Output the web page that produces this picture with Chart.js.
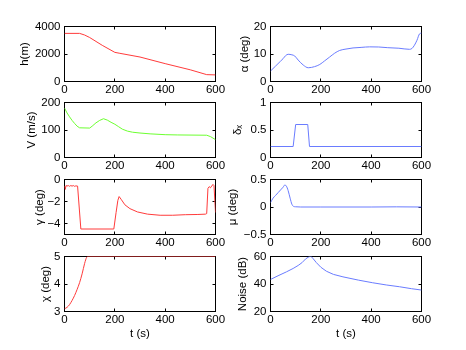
<!DOCTYPE html>
<html>
<head>
<meta charset="utf-8">
<script src="https://cdn.jsdelivr.net/npm/chart.js@4.4.0/dist/chart.umd.min.js"></script>
<style>
  html, body { margin: 0; padding: 0; background: #fff; }
  #fig { position: relative; width: 466px; height: 350px; overflow: hidden; }
  #fig canvas { position: absolute; }
</style>
</head>
<body>
<div id="fig"></div>
<script>
// tick labels
const xTicks = [0, 200, 400, 600];
const hTicks = [0, 2000, 4000];
const vTicks = [0, 100, 200];
const gammaTicks = [-4, -2, 0];
const chiTicks = [3, 4, 5];
const alphaTicks = [0, 10, 20];
const deltaTicks = [0, 0.5, 1];
const muTicks = [-0.5, 0, 0.5];
const noiseTicks = [20, 40, 60];

// series (time in s)
const hTime = [0, 60, 80, 100, 150, 200, 220, 300, 400, 500, 565, 600];
const hValue = [3500, 3500, 3380, 3200, 2630, 2120, 2050, 1780, 1300, 850, 500, 480];

const vTime = [0, 10, 20, 30, 40, 50, 60, 100, 110, 125, 140, 155, 170, 185, 200, 215, 230, 250, 270, 300, 340, 400, 450, 565, 580, 600];
const vValue = [180, 162, 148, 135, 124, 114, 108, 107, 114, 126, 135, 141, 136, 128, 121, 112, 103, 96, 92, 89, 86, 83, 82, 81, 76, 65];

const gammaTime = [0, 3, 6, 10, 15, 20, 25, 30, 35, 40, 45, 52, 65, 196, 205, 212, 217, 225, 240, 260, 290, 330, 380, 430, 480, 530, 560, 565, 570, 575, 580, 585, 590, 594, 600];
const gammaValue = [-0.6, -0.9, -0.55, -0.6, -0.55, -0.62, -0.55, -0.6, -0.55, -0.62, -0.58, -0.6, -4.5, -4.5, -3.0, -1.9, -1.55, -1.8, -2.3, -2.65, -2.95, -3.15, -3.25, -3.25, -3.2, -3.18, -3.15, -3.1, -0.8, -0.65, -0.75, -0.6, -0.45, -0.55, -3.0];

const chiTime = [0, 10, 20, 30, 40, 50, 60, 70, 80, 88, 92, 600];
const chiValue = [3.1, 3.15, 3.25, 3.4, 3.58, 3.8, 4.05, 4.37, 4.75, 4.97, 5, 5];

const alphaTime = [0, 20, 40, 50, 60, 70, 85, 96, 110, 130, 150, 175, 196, 215, 235, 255, 275, 300, 328, 360, 394, 430, 466, 510, 552, 562, 572, 582, 592, 600];
const alphaValue = [3.8, 5.6, 7.4, 8.3, 9.4, 9.9, 9.7, 9.3, 7.8, 6.0, 5.0, 5.4, 6.2, 7.5, 8.9, 10.3, 11.3, 11.8, 12.2, 12.4, 12.6, 12.55, 12.3, 12.1, 11.7, 12.0, 13.2, 15.0, 17.3, 17.6];

const deltaTime = [0, 90, 100, 148, 155, 600];
const deltaValue = [0.2, 0.2, 0.6, 0.6, 0.2, 0.2];

const muTime = [0, 10, 20, 30, 40, 50, 57, 63, 70, 78, 85, 92, 100, 120, 200, 400, 500, 600];
const muValue = [0.08, 0.16, 0.21, 0.26, 0.31, 0.36, 0.4, 0.38, 0.3, 0.16, 0.05, 0.01, 0.004, 0, 0, 0, 0.003, 0];

const noiseTime = [0, 30, 63, 90, 110, 125, 140, 150, 160, 170, 182, 200, 222, 250, 288, 350, 406, 460, 513, 560, 600];
const noiseValue = [43.3, 46, 48.8, 51.3, 53.5, 55.5, 58.3, 59.5, 60.3, 58.3, 55.6, 52.2, 49.3, 47.0, 45.2, 42.8, 40.9, 39.3, 38.0, 36.6, 35.6];

const RED = '#ff3b3b', GREEN = '#6cff30', BLUE = '#6a7cff';

const FONT_SIZE = 11.5;
const HALF_LINE = FONT_SIZE * 1.2 / 2;
Chart.defaults.font.family = "'Liberation Sans', Arial, Helvetica, sans-serif";
Chart.defaults.font.size = FONT_SIZE;
Chart.defaults.color = '#000';

// layout of the 4x2 grid
const colLeft = [0, 225], colWidth = [233, 241], yAxisWidth = [64.5, 45.5], padRight = [17.5, 44.5];
const rowTop = [12, 88, 165, 242], rowHeight = [90, 90, 90, 108];
const PAD_TOP = 14.5, BOX_H = 55;

const panels = [
  { col: 0, row: 0, title: 'h(m)', titleX: 25, time: hTime, values: hValue, min: 0, max: 4000, ticks: hTicks, color: RED },
  { col: 0, row: 1, title: 'V (m/s)', titleX: 32, time: vTime, values: vValue, min: 0, max: 200, ticks: vTicks, color: GREEN },
  { col: 0, row: 2, title: 'γ (deg)', titleX: 40, time: gammaTime, values: gammaValue, min: -5, max: 0, ticks: gammaTicks, color: RED },
  { col: 0, row: 3, title: 'χ (deg)', titleX: 46, time: chiTime, values: chiValue, min: 3, max: 5, ticks: chiTicks, color: RED, smooth: true },
  { col: 1, row: 0, title: 'α (deg)', titleX: 20, time: alphaTime, values: alphaValue, min: 0, max: 20, ticks: alphaTicks, color: BLUE, smooth: true },
  { col: 1, row: 1, title: 'δₓ', titleX: 13, time: deltaTime, values: deltaValue, min: 0, max: 1, ticks: deltaTicks, color: BLUE },
  { col: 1, row: 2, title: 'μ (deg)', titleX: 8, time: muTime, values: muValue, min: -0.5, max: 0.5, ticks: muTicks, color: BLUE, smooth: true },
  { col: 1, row: 3, title: 'Noise (dB)', titleX: 18, time: noiseTime, values: noiseValue, min: 20, max: 60, ticks: noiseTicks, color: BLUE }
];

// box + inward ticks, drawn under the curve like matlab
const framePlugin = {
  id: 'frame',
  beforeDatasetsDraw(chart) {
    const { ctx, chartArea: a, scales: { x, y } } = chart;
    ctx.save();
    ctx.strokeStyle = '#000';
    ctx.lineWidth = 1;
    ctx.strokeRect(a.left, a.top, a.right - a.left, a.bottom - a.top);
    ctx.beginPath();
    x.ticks.forEach(t => {
      const px = Math.round(x.getPixelForValue(t.value) - 0.5) + 0.5;
      ctx.moveTo(px, a.bottom); ctx.lineTo(px, a.bottom - 3);
      ctx.moveTo(px, a.top); ctx.lineTo(px, a.top + 3);
    });
    y.ticks.forEach(t => {
      const py = Math.round(y.getPixelForValue(t.value) - 0.5) + 0.5;
      ctx.moveTo(a.left, py); ctx.lineTo(a.left + 3, py);
      ctx.moveTo(a.right, py); ctx.lineTo(a.right - 3, py);
    });
    ctx.stroke();
    ctx.restore();
  }
};

const fmt = v => String(v).replace('-', '−');

function makePanel(p) {
  const fig = document.getElementById('fig');
  const canvas = document.createElement('canvas');
  const w = colWidth[p.col], h = rowHeight[p.row];
  canvas.width = w;
  canvas.height = h;
  canvas.style.width = w + 'px';
  canvas.style.height = h + 'px';
  canvas.style.left = colLeft[p.col] + 'px';
  canvas.style.top = rowTop[p.row] + 'px';
  fig.appendChild(canvas);

  const bottomRow = p.row === 3;
  const xHeight = h - PAD_TOP - BOX_H;

  new Chart(canvas, {
    type: 'line',
    data: {
      datasets: [{
        data: p.time.map((t, i) => ({ x: t, y: p.values[i] })),
        borderColor: p.color,
        borderWidth: 1,
        pointRadius: 0,
        fill: false,
        tension: p.smooth ? 0.3 : 0,
        cubicInterpolationMode: p.smooth ? 'monotone' : 'default'
      }]
    },
    options: {
      responsive: false,
      animation: false,
      events: [],
      layout: { padding: { top: PAD_TOP, right: padRight[p.col], bottom: 0, left: 0 } },
      plugins: { legend: { display: false }, tooltip: { enabled: false } },
      scales: {
        x: {
          type: 'linear',
          min: 0,
          max: 600,
          grid: { display: false, drawTicks: false },
          border: { display: false },
          afterBuildTicks: s => { s.ticks = xTicks.map(v => ({ value: v })); },
          afterFit: s => { s.height = xHeight; },
          ticks: { autoSkip: false, maxRotation: 0, padding: 1.4, color: '#000', callback: fmt },
          title: { display: bottomRow, text: 't (s)', color: '#000', padding: { top: 0, bottom: 16 - HALF_LINE } }
        },
        y: {
          min: p.min,
          max: p.max,
          grid: { display: false, drawTicks: false },
          border: { display: false },
          afterBuildTicks: s => { s.ticks = p.ticks.map(v => ({ value: v })); },
          afterFit: s => { s.width = yAxisWidth[p.col]; },
          ticks: { autoSkip: false, padding: 4, color: '#000', callback: fmt },
          title: { display: true, text: p.title, color: '#000', padding: { top: p.titleX - HALF_LINE, bottom: 0 } }
        }
      }
    },
    plugins: [framePlugin]
  });
}

panels.forEach(makePanel);
</script>
</body>
</html>
